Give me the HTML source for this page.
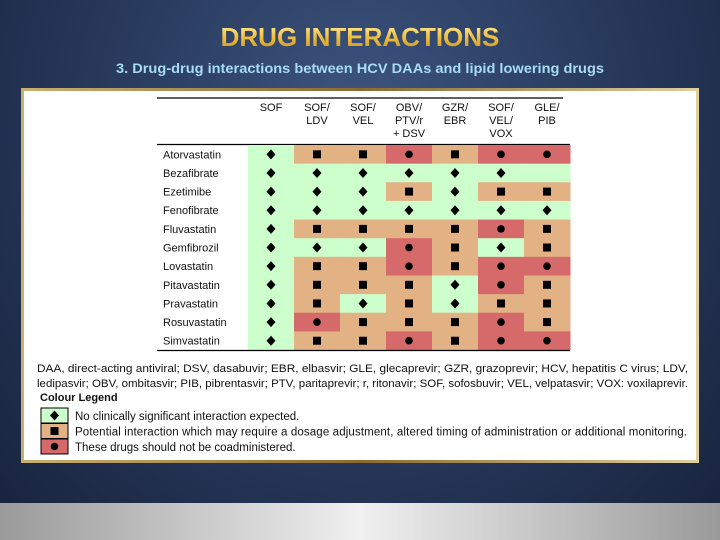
<!DOCTYPE html>
<html><head><meta charset="utf-8"><style>
html,body{margin:0;padding:0;width:720px;height:540px;overflow:hidden}
body{background:radial-gradient(ellipse at 50% 25%,#3e5680 0%,#2a3c60 45%,#17223c 100%);font-family:"Liberation Sans",sans-serif}
</style></head><body>
<svg width="720" height="540" viewBox="0 0 720 540">
<defs>
<linearGradient id="gold" x1="0" y1="0" x2="0" y2="1"><stop offset="0" stop-color="#fff2a8"/><stop offset="0.5" stop-color="#f0c040"/><stop offset="1" stop-color="#c8901c"/></linearGradient>
<linearGradient id="gray" x1="0" y1="0" x2="1" y2="0"><stop offset="0" stop-color="#9a9a9a"/><stop offset="0.5" stop-color="#f0f0f0"/><stop offset="1" stop-color="#9a9a9a"/></linearGradient>
<linearGradient id="frame" x1="0" y1="0" x2="1" y2="0"><stop offset="0" stop-color="#c8b070"/><stop offset="0.5" stop-color="#8a6a30"/><stop offset="1" stop-color="#e0d0a0"/></linearGradient>
</defs>
<rect x="0" y="503" width="720" height="37" fill="url(#gray)"/>
<text x="360" y="46" text-anchor="middle" font-size="26" font-weight="bold" fill="url(#gold)">DRUG INTERACTIONS</text>
<text x="360" y="73" text-anchor="middle" font-size="13.5" font-weight="bold" fill="#a8dcf4" textLength="488" lengthAdjust="spacingAndGlyphs">3. Drug-drug interactions between HCV DAAs and lipid lowering drugs</text>
<rect x="21" y="88" width="678" height="375" fill="url(#frame)"/>
<rect x="24" y="91" width="672" height="369" fill="#ffffff"/>
<g id="tbl"></g>
<text x="37" y="372" font-size="11" fill="#111" textLength="651" lengthAdjust="spacingAndGlyphs">DAA, direct-acting antiviral; DSV, dasabuvir; EBR, elbasvir; GLE, glecaprevir; GZR, grazoprevir; HCV, hepatitis C virus; LDV,</text>
<text x="37" y="387" font-size="11" fill="#111" textLength="651" lengthAdjust="spacingAndGlyphs">ledipasvir; OBV, ombitasvir; PIB, pibrentasvir; PTV, paritaprevir; r, ritonavir; SOF, sofosbuvir; VEL, velpatasvir; VOX: voxilaprevir.</text>
<text x="40" y="401" font-size="11" font-weight="bold" fill="#111">Colour Legend</text>
<g id="leg"></g>
</svg>
<script>
const drugs=["Atorvastatin","Bezafibrate","Ezetimibe","Fenofibrate","Fluvastatin","Gemfibrozil","Lovastatin","Pitavastatin","Pravastatin","Rosuvastatin","Simvastatin"];
const regimens=[["SOF"],["SOF/","LDV"],["SOF/","VEL"],["OBV/","PTV/r","+ DSV"],["GZR/","EBR"],["SOF/","VEL/","VOX"],["GLE/","PIB"]];
const grid=[
"GTTRTRR","GGGGGGE","GGGTGTT","GGGGGGG","GTTTTRT","GGGRTGT","GTTRTRR","GTTTGRT","GTGTGTT","GRTTTRT","GTTRTRR"];
const legendKeys=["G","T","R"];
const legendText=["No clinically significant interaction expected.","Potential interaction which may require a dosage adjustment, altered timing of administration or additional monitoring.","These drugs should not be coadministered."];
const NS="http://www.w3.org/2000/svg";
const fill={G:"#ccffcc",T:"#e2b184",R:"#d66a6a",E:"#ccffcc"};
const x0=248,cw=46,y0=145,rh=18.64;
const colX=i=>x0+i*cw, rowY=j=>y0+j*rh;
function mk(t,a,p){const e=document.createElementNS(NS,t);for(const k in a)e.setAttribute(k,a[k]);p.appendChild(e);return e;}
function sym(k,cx,cy,p){
 if(k==="G")return mk("polygon",{points:`${cx},${cy-5} ${cx+4.5},${cy} ${cx},${cy+5} ${cx-4.5},${cy}`,fill:"#000"},p);
 if(k==="T")return mk("rect",{x:cx-4,y:cy-4,width:8,height:8,fill:"#000"},p);
 if(k==="R")return mk("circle",{cx:cx,cy:cy,r:3.8,fill:"#000"},p);
 return null;
}
const g=document.getElementById("tbl");
const tl=mk("line",{x1:157,x2:563,y1:98,y2:98,stroke:"#000","stroke-width":1.2},g);


regimens.forEach((r,i)=>{r.forEach((s,k)=>{const t=mk("text",{x:colX(i)+cw/2,y:111+k*13,"text-anchor":"middle","font-size":11,fill:"#111"},g);t.textContent=s;

});});
const hl=mk("line",{x1:157,x2:570,y1:144.5,y2:144.5,stroke:"#000","stroke-width":1.2},g);


drugs.forEach((d,j)=>{
 const t=mk("text",{x:163,y:rowY(j)+rh/2+4,"font-size":11,fill:"#111"},g);t.textContent=d;
 
 
 for(let i=0;i<regimens.length;i++){const k=grid[j][i];
  const c=mk("rect",{x:colX(i),y:rowY(j),width:cw+0.5,height:rh+0.5,fill:fill[k]},g);
  
  
  const s=sym(k,colX(i)+cw/2,rowY(j)+rh/2,g);
  if(s){
  }
 }
});
const bl=mk("line",{x1:157,x2:570,y1:350.5,y2:350.5,stroke:"#000","stroke-width":1.2},g);


const L=document.getElementById("leg");
legendKeys.forEach((k,i)=>{const y=408+i*15.5;
 const b=mk("rect",{x:41,y:y,width:27,height:15,fill:fill[k],stroke:"#000","stroke-width":1},L);
 
 
 sym(k,54.5,y+7.5,L);
 const t=mk("text",{x:75,y:y+12,"font-size":11.5,fill:"#111"},L);t.textContent=legendText[i];
 if(i===1)t.setAttribute("textLength","612");
 
 
});
</script>
</body></html>
